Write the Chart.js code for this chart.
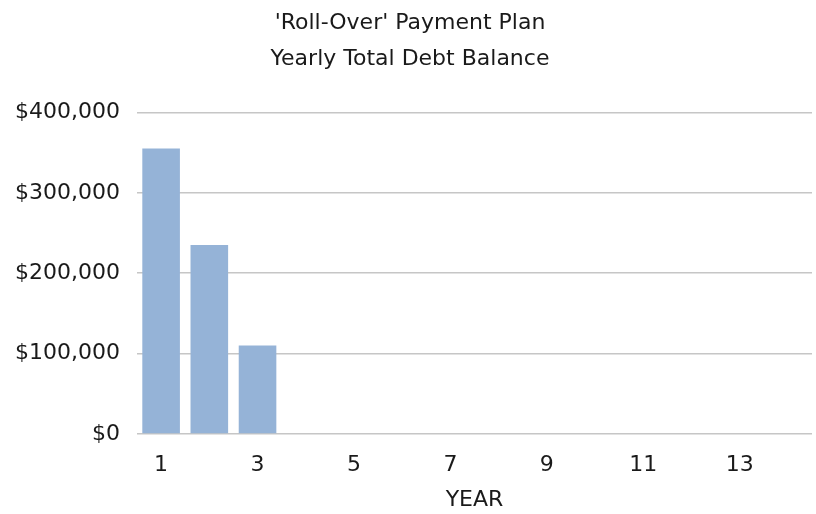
<!DOCTYPE html>
<html>
<head>
<meta charset="utf-8">
<script src="https://cdn.jsdelivr.net/npm/chart.js@4/dist/chart.umd.min.js"></script>
<style>
  html, body { margin: 0; padding: 0; background: #ffffff; }
  #wrap { width: 816px; height: 514px; }
</style>
</head>
<body>
<div id="wrap"><canvas id="c" width="816" height="514"></canvas></div>
<script>
const years = ['1','2','3','4','5','6','7','8','9','10','11','12','13','14'];
const debtBalance = [355000, 235000, 110000, 0, 0, 0, 0, 0, 0, 0, 0, 0, 0, 0];
const yTicks = [0, 100000, 200000, 300000, 400000];
const titleLines = ["'Roll-Over' Payment Plan", 'Yearly Total Debt Balance'];
const xTitle = 'YEAR';

const FONT = 'DejaVu Sans';
const TEXT = '#1a1a1a';

new Chart(document.getElementById('c'), {
  type: 'bar',
  data: {
    labels: years,
    datasets: [{
      label: 'Total Debt Balance',
      data: debtBalance,
      backgroundColor: '#95b3d7',
      borderWidth: 0,
      barPercentage: 0.78,
      categoryPercentage: 1.0
    }]
  },
  options: {
    responsive: false,
    animation: false,
    devicePixelRatio: 1,
    layout: { padding: { left: 8, right: 4, top: 6, bottom: 1 } },
    plugins: {
      legend: { display: false },
      tooltip: { enabled: false },
      title: {
        display: true,
        text: titleLines,
        color: TEXT,
        font: { family: FONT, size: 22, weight: 'normal', lineHeight: 1.6 },
        padding: { top: 0, bottom: 36 }
      }
    },
    scales: {
      x: {
        grid: { display: false, drawTicks: false },
        border: { display: false },
        afterFit: function(scale) { scale.height = 79; },
        ticks: {
          autoSkip: false,
          maxRotation: 0,
          padding: 18,
          color: TEXT,
          font: { family: FONT, size: 22 },
          callback: function(value, index) {
            return index % 2 === 0 ? this.getLabelForValue(value) : '';
          }
        },
        title: {
          display: true,
          text: xTitle,
          color: TEXT,
          font: { family: FONT, size: 22 },
          padding: { top: 0, bottom: 0 }
        }
      },
      y: {
        min: yTicks[0],
        max: yTicks[yTicks.length - 1],
        afterBuildTicks: function(axis) {
          axis.ticks = yTicks.map(v => ({ value: v }));
        },
        afterFit: function(scale) { scale.width = 129; },
        grid: { color: '#c6c6c6', lineWidth: 1.5, drawTicks: false },
        border: { display: false },
        ticks: {
          padding: 17,
          color: TEXT,
          font: { family: FONT, size: 22 },
          callback: v => '$' + Number(v).toLocaleString('en-US')
        }
      }
    }
  }
});
</script>
</body>
</html>
